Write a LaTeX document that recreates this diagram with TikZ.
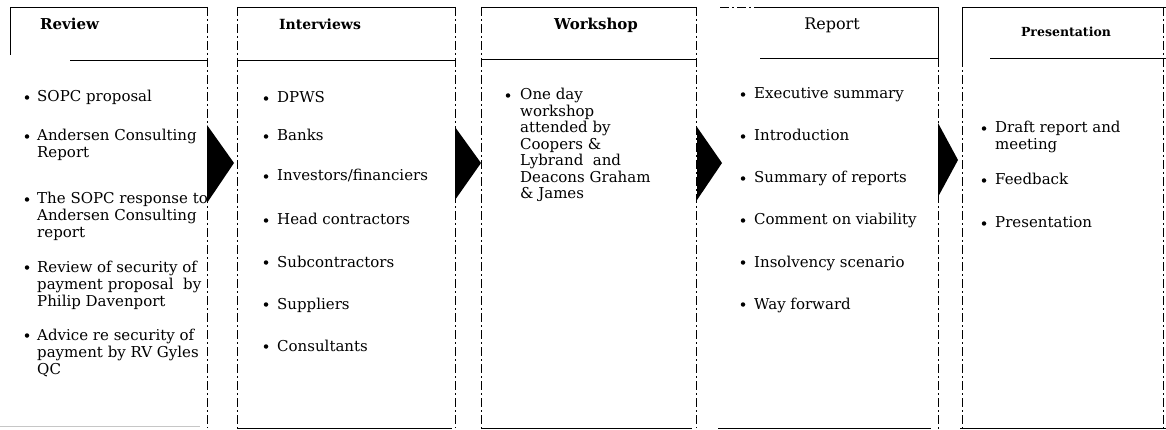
\documentclass[tikz,border=0pt]{standalone}
\usepackage{fontspec}
\setmainfont{DejaVu Serif}
\newcommand\itemfont{\fontsize{15}{16.5}\selectfont}
\begin{document}
\begin{tikzpicture}[x=1pt,y=-1pt,
  frame/.style={line width=0.7pt},
  broken/.style={line width=0.7pt, dash pattern=on 9pt off 3pt on 2pt off 3pt},
  txt/.style={anchor=base west, inner sep=0pt, font=\itemfont},
  ttl/.style={anchor=base, inner sep=0pt},
  dot/.style={circle, fill=black, inner sep=0pt, minimum size=4.5pt},
  tri/.style={fill=black}]
\useasboundingbox (0,0) rectangle (1166,430);

% ---------- Box 1: Review
\draw[frame] (10,55) -- (10,7) -- (207,7);
\draw[frame] (70,60) -- (207,60);
\draw[broken] (207,7) -- (207,428);
\draw[gray!45, line width=0.4pt] (0,426) -- (200,426);
\node[ttl, anchor=base west, font=\fontsize{15}{18}\bfseries] (t1) at (40,30) {Review};

\node[dot] (rb1) at (27,97.5) {};
\node[txt] (r1) at (37,102) {SOPC proposal};
\node[dot] (rb2) at (27,136.5) {};
\node[txt] (r2a) at (37,141) {Andersen Consulting};
\node[txt] (r2b) at (37,158) {Report};
\node[dot] (rb3) at (27,199.5) {};
\node[txt] (r3a) at (37,204) {The SOPC response to};
\node[txt] (r3b) at (37,221) {Andersen Consulting};
\node[txt] (r3c) at (37,238) {report};
\node[dot] (rb4) at (27,267.5) {};
\node[txt] (r4a) at (37,272) {Review of security of};
\node[txt] (r4b) at (37,289) {payment proposal\ \ by};
\node[txt] (r4c) at (37,306) {Philip Davenport};
\node[dot] (rb5) at (27,335.5) {};
\node[txt] (r5a) at (37,340) {Advice re security of};
\node[txt] (r5b) at (37,357) {payment by RV Gyles};
\node[txt] (r5c) at (37,374) {QC};

\fill[tri] (207,125) -- (234,163) -- (207,203) -- cycle;

% ---------- Box 2: Interviews
\draw[frame] (237,7) -- (455,7);
\draw[frame] (237,60) -- (455,60);
\draw[broken] (237,7) -- (237,428);
\draw[broken] (455,7) -- (455,428);
\draw[frame] (237,428) -- (452,428);
\node[ttl, font=\fontsize{14}{17}\bfseries] (t2) at (320,30) {Interviews};

\node[dot] (ib1) at (266,98.5) {};
\node[txt] (i1) at (277,103) {DPWS};
\node[dot] (ib2) at (266,136.5) {};
\node[txt] (i2) at (277,141) {Banks};
\node[dot] (ib3) at (266,176.5) {};
\node[txt] (i3) at (277,181) {Investors/financiers};
\node[dot] (ib4) at (266,220.5) {};
\node[txt] (i4) at (277,225) {Head contractors};
\node[dot] (ib5) at (266,262.5) {};
\node[txt] (i5) at (277,267) {Subcontractors};
\node[dot] (ib6) at (266,304.5) {};
\node[txt] (i6) at (277,309) {Suppliers};
\node[dot] (ib7) at (266,346.5) {};
\node[txt] (i7) at (277,351) {Consultants};

\fill[tri] (455,127) -- (481,163) -- (455,200) -- cycle;

% ---------- Box 3: Workshop
\draw[frame] (481,7) -- (696,7);
\draw[frame] (481,59) -- (696,59);
\draw[broken] (481,7) -- (481,428);
\draw[broken] (696,7) -- (696,428);
\draw[frame] (481,428) -- (692,428);
\node[ttl, font=\fontsize{15}{18}\bfseries] (t3) at (596,30) {Workshop};

\node[dot] (wb1) at (508,95.5) {};
\node[txt] (w1a) at (520,100) {One day};
\node[txt] (w1b) at (520,116.5) {workshop};
\node[txt] (w1c) at (520,133) {attended by};
\node[txt] (w1d) at (520,149.5) {Coopers \&};
\node[txt] (w1e) at (520,166) {Lybrand\ \ and};
\node[txt] (w1f) at (520,182.5) {Deacons Graham};
\node[txt] (w1g) at (520,199) {\& James};

\fill[tri] (697,127) -- (722,163) -- (697,200) -- cycle;

% ---------- Box 4: Report
\draw[broken] (720,7) -- (760,7);
\draw[frame] (760,7) -- (938,7);
\draw[frame] (760,58) -- (938,58);
\draw[frame] (938,7) -- (938,58);
\draw[broken] (938,58) -- (938,430);
\draw[frame] (718,428) -- (931,428);
\node[ttl, font=\fontsize{16}{19}\selectfont] (t4) at (832,30) {Report};

\node[dot] (pb1) at (743,94.5) {};
\node[txt] (p1) at (754,99) {Executive summary};
\node[dot] (pb2) at (743,136.5) {};
\node[txt] (p2) at (754,141) {Introduction};
\node[dot] (pb3) at (743,178.5) {};
\node[txt] (p3) at (754,183) {Summary of reports};
\node[dot] (pb4) at (743,220.5) {};
\node[txt] (p4) at (754,225) {Comment on viability};
\node[dot] (pb5) at (743,262.5) {};
\node[txt] (p5) at (754,267) {Insolvency scenario};
\node[dot] (pb6) at (743,304.5) {};
\node[txt] (p6) at (754,309) {Way forward};

\fill[tri] (938,123) -- (958,160) -- (938,197) -- cycle;

% ---------- Box 5: Presentation
\draw[frame] (962,58) -- (962,7) -- (1166,7);
\draw[broken] (962,58) -- (962,428);
\draw[frame] (990,58) -- (1166,58);
\draw[broken] (1163,7) -- (1163,428);
\draw[frame] (960,428) -- (1166,428);
\node[ttl, font=\fontsize{12.5}{15}\bfseries] (t5) at (1066,37) {Presentation};

\node[dot] (sb1) at (984,128.5) {};
\node[txt] (s1a) at (995,133) {Draft report and};
\node[txt] (s1b) at (995,150) {meeting};
\node[dot] (sb2) at (984,180.5) {};
\node[txt] (s2) at (995,185) {Feedback};
\node[dot] (sb3) at (984,223.5) {};
\node[txt] (s3) at (995,228) {Presentation};
\end{tikzpicture}
\end{document}
